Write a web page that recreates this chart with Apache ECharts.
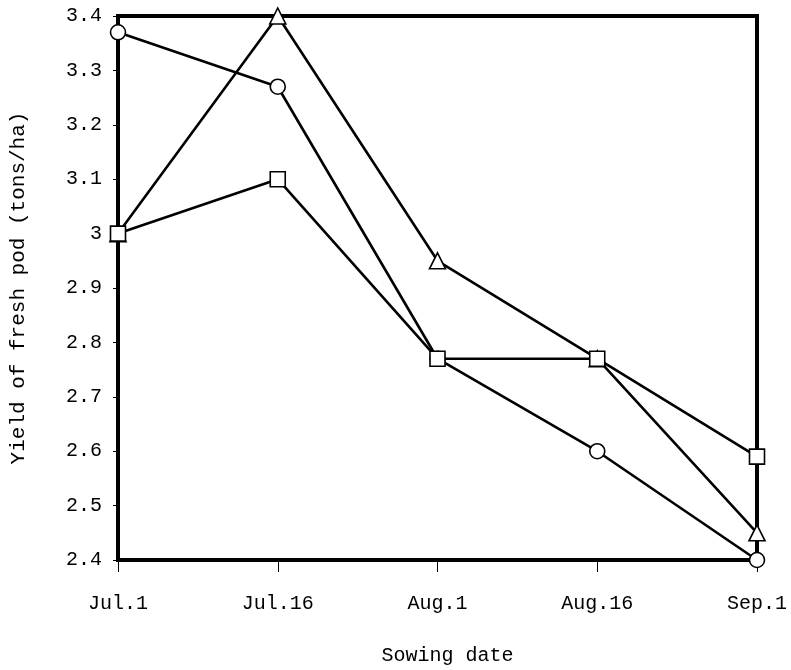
<!DOCTYPE html>
<html>
<head>
<meta charset="utf-8">
<script src="https://cdn.jsdelivr.net/npm/echarts@6/dist/echarts.min.js"></script>
<style>
  html, body { margin: 0; padding: 0; background: #fff; }
  #chart { width: 791px; height: 670px; }
</style>
</head>
<body>
<div id="chart"></div>
<script>
// Sowing dates along the x axis
const sowingDates = ['Jul.1', 'Jul.16', 'Aug.1', 'Aug.16', 'Sep.1'];

// Yield of fresh pod (tons/ha) for each treatment
const circleYield   = [3.37, 3.27, 2.77, 2.60, 2.40];
const triangleYield = [3.00, 3.40, 2.95, 2.77, 2.45];
const squareYield   = [3.00, 3.10, 2.77, 2.77, 2.59];

const yMin = 2.4, yMax = 3.4, yStep = 0.1;

const monoFont = '"Liberation Mono", "DejaVu Sans Mono", monospace';

function lineSeries(name, data, symbol, size) {
  return {
    name: name,
    type: 'line',
    data: data,
    symbol: symbol,
    symbolSize: size,
    showSymbol: true,
    clip: false,
    lineStyle: { color: '#000', width: 2.6 },
    itemStyle: { color: '#fff', borderColor: '#000', borderWidth: 1.6 },
    z: 3
  };
}

const chart = echarts.init(document.getElementById('chart'), null, { renderer: 'canvas' });
chart.setOption({
  animation: false,
  backgroundColor: '#fff',
  grid: {
    left: 118, right: 34, top: 16, bottom: 110,
    outerBoundsMode: 'none',
    containLabel: false,
    show: true, borderColor: '#000', borderWidth: 4, backgroundColor: 'transparent'
  },
  xAxis: {
    type: 'category',
    data: sowingDates,
    boundaryGap: false,
    axisLine: { show: true, lineStyle: { color: '#000', width: 4 } },
    axisTick: { show: true, alignWithLabel: true, length: 12, lineStyle: { color: '#000', width: 1 } },
    axisLabel: { color: '#000', fontFamily: monoFont, fontSize: 20, margin: 34 },
    splitLine: { show: false },
    name: 'Sowing date',
    nameLocation: 'middle',
    nameGap: 86,
    nameTextStyle: { color: '#000', fontFamily: monoFont, fontSize: 20, padding: [0, 0, 0, 20] }
  },
  yAxis: {
    type: 'value',
    min: yMin, max: yMax, interval: yStep,
    axisLine: { show: true, lineStyle: { color: '#000', width: 4 } },
    axisTick: { show: true, length: 5, lineStyle: { color: '#000', width: 1 } },
    axisLabel: { color: '#000', fontFamily: monoFont, fontSize: 20, margin: 16,
      formatter: v => String(Math.round(v * 10) / 10) },
    splitLine: { show: false },
    name: 'Yield of fresh pod (tons/ha)',
    nameLocation: 'middle',
    nameRotate: 90,
    nameGap: 89,
    nameTextStyle: { color: '#000', fontFamily: monoFont, fontSize: 21 }
  },
  series: [
    lineSeries('circle', circleYield, 'circle', 15),
    lineSeries('triangle', triangleYield, 'triangle', 16),
    lineSeries('square', squareYield, 'rect', 15)
  ]
});
</script>
</body>
</html>
